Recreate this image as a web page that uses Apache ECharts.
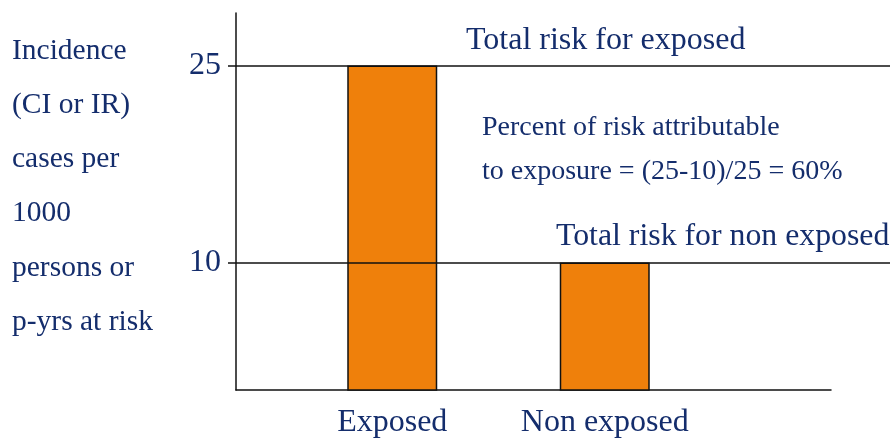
<!DOCTYPE html>
<html>
<head>
<meta charset="utf-8">
<script src="https://cdn.jsdelivr.net/npm/echarts@6/dist/echarts.min.js"></script>
<style>
html,body{margin:0;padding:0;background:#fff;}
#chart{width:893px;height:439px;}
</style>
</head>
<body>
<div id="chart"></div>
<script>
const categories = ['Exposed', 'Non exposed'];
const incidence = [25, 10];
const yTicks = [10, 25];
const yTitleLines = ['Incidence', '(CI or IR)', 'cases per', '1000', 'persons or', 'p-yrs at risk'];
const refLabels = ['Total risk for exposed', 'Total risk for non exposed'];
const noteLines = ['Percent of risk attributable', 'to exposure = (25-10)/25 = 60%'];

const FONT = '"Liberation Serif", "Times New Roman", serif';
const NAVY = '#142d6c';
const YMIN = 0.3, YMAX = 29;
const TOP = 13, BOTTOM = 49;

const chart = echarts.init(document.getElementById('chart'));
chart.setOption({
  backgroundColor: '#fff',
  animation: false,
  grid: [
    {left: 236, right: 62, top: TOP, bottom: BOTTOM},
    {left: 236, right: 3, top: TOP, bottom: BOTTOM},
    {left: 286, right: 182, top: TOP, bottom: BOTTOM}
  ],
  xAxis: [
    {gridIndex: 0, type: 'category', data: categories, axisLine: {show: true, lineStyle: {color: '#111', width: 1.5}}, axisTick: {show: false}, axisLabel: {show: false}},
    {gridIndex: 1, type: 'category', data: categories, show: false},
    {gridIndex: 2, type: 'category', data: categories,
      axisLine: {show: false}, axisTick: {show: false},
      axisLabel: {interval: 0, hideOverlap: false, fontFamily: FONT, fontSize: 32, color: NAVY, margin: 17}}
  ],
  yAxis: [
    {gridIndex: 0, type: 'value', min: YMIN, max: YMAX,
      axisLine: {show: true, lineStyle: {color: '#111', width: 1.5}},
      axisTick: {show: true, length: 8, customValues: yTicks, lineStyle: {color: '#111', width: 1.5}},
      axisLabel: {customValues: yTicks, fontFamily: FONT, fontSize: 32, color: NAVY, margin: 15},
      splitLine: {show: false}},
    {gridIndex: 1, type: 'value', min: YMIN, max: YMAX, show: false, splitLine: {show: false}},
    {gridIndex: 2, type: 'value', min: YMIN, max: YMAX, show: false, splitLine: {show: false}}
  ],
  series: [
    {
      type: 'bar', xAxisIndex: 2, yAxisIndex: 2, data: incidence, barWidth: 90,
      itemStyle: {color: '#ef800b', borderColor: '#111', borderWidth: 1.5},
      z: 2
    },
    {
      type: 'line', xAxisIndex: 1, yAxisIndex: 1, data: [], z: 5,
      markLine: {
        silent: true, symbol: 'none',
        label: {show: false},
        lineStyle: {color: '#111', type: 'solid', width: 1.5},
        data: incidence.map(v => ({yAxis: v}))
      }
    }
  ],
  graphic: [
    {type: 'text', left: 12, top: 24, style: {text: yTitleLines.join('\n'), font: '29.5px ' + FONT, fill: NAVY, lineHeight: 54.2}},
    {type: 'text', left: 466, top: 25, style: {text: refLabels[0], font: '32px ' + FONT, fill: NAVY}},
    {type: 'text', left: 556, top: 221, style: {text: refLabels[1], font: '31.8px ' + FONT, fill: NAVY}},
    {type: 'text', left: 482, top: 106, style: {text: noteLines.join('\n'), font: '28px ' + FONT, fill: NAVY, lineHeight: 43.5}}
  ]
});
</script>
</body>
</html>
